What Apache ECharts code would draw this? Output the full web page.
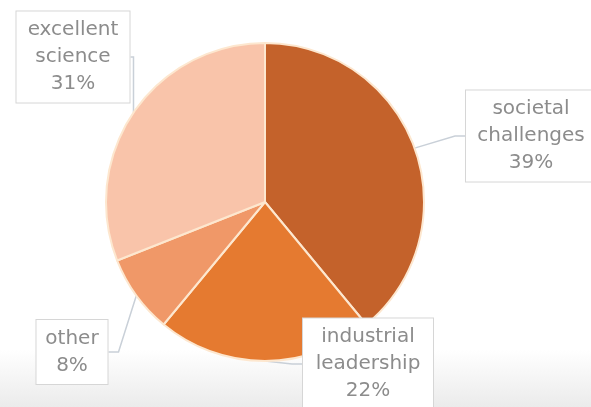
<!DOCTYPE html>
<html>
<head>
<meta charset="utf-8">
<script src="https://cdn.jsdelivr.net/npm/echarts@6/dist/echarts.min.js"></script>
<style>
html,body{margin:0;padding:0;width:591px;height:407px;overflow:hidden;background:linear-gradient(to bottom,#ffffff 0%,#ffffff 86%,#ebebeb 100%);}
#c{width:591px;height:407px;}
</style>
</head>
<body>
<div id="c"></div>
<script>
const categories = ['societal\nchallenges', 'industrial\nleadership', 'other', 'excellent\nscience'];
const values = [39, 22, 8, 31];
const colors = ['#C4622B', '#E57A30', '#F09868', '#F9C4AA'];
const labelCenters = [[531, 136], [368, 364], [72, 352], [73, 57]];
const labelWidths = [114, 114, 55, 97];

const chart = echarts.init(document.getElementById('c'));
chart.setOption({
  animation: false,
  series: [{
    type: 'pie',
    center: [265, 202],
    radius: [0, 159],
    startAngle: 90,
    clockwise: true,
    data: categories.map((c, i) => ({
      name: c, value: values[i],
      itemStyle: { color: colors[i] },
      label: { width: labelWidths[i] }
    })),
    itemStyle: { borderColor: '#FDE7CF', borderWidth: 2 },
    label: {
      show: true,
      formatter: '{b}\n{d}%',
      fontFamily: 'DejaVu Sans',
      fontSize: 20,
      lineHeight: 27,
      color: '#8c8c8c',
      align: 'center',
      overflow: 'none',
      backgroundColor: '#ffffff',
      borderColor: '#d6d6d6',
      borderWidth: 1,
      padding: [5, 8, 5, 8]
    },
    labelLine: {
      show: true,
      length: 12,
      length2: 10,
      lineStyle: { color: '#c9d0d8', width: 1.5 }
    },
    labelLayout: function (p) {
      const pos = labelCenters[p.dataIndex];
      return { x: pos[0], y: pos[1], align: 'center', verticalAlign: 'middle' };
    }
  }]
});
</script>
</body>
</html>
